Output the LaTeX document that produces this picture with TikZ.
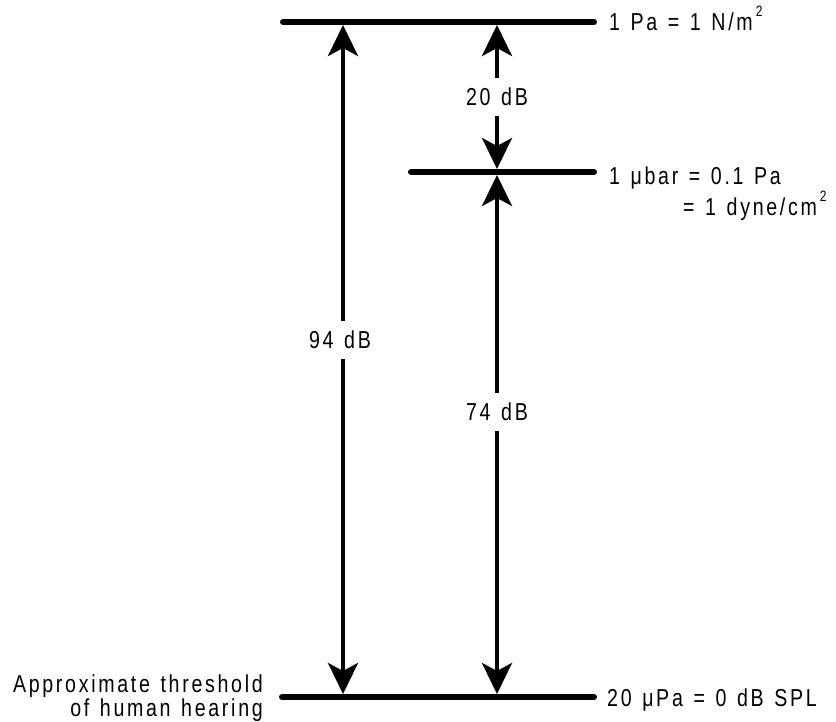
\documentclass[tikz,border=0pt]{standalone}
\usepackage{fontspec}
\setmainfont{Liberation Sans}[LetterSpace=11,FakeStretch=0.8,WordSpace=1.3]
\usetikzlibrary{arrows.meta}
\begin{document}
\begin{tikzpicture}[x=1pt,y=-1pt,
  level/.style={line width=6pt,line cap=round},
  dim/.style={line width=4pt,{Stealth[length=31pt,width=30pt,inset=8pt]}-{Stealth[length=31pt,width=30pt,inset=8pt]}},
  txt/.style={font=\fontsize{24.5}{28}\selectfont,inner sep=0pt},
  gaplabel/.style={txt,fill=white,inner xsep=3pt,inner ysep=10pt}]
\useasboundingbox (0,0) rectangle (836,721);
\newcommand{\sq}{\hspace{3pt}\raisebox{1.05ex}{\fontsize{15}{17}\selectfont 2}}
% level lines
\coordinate (tL) at (283,22);  \coordinate (tR) at (594,22);
\coordinate (mL) at (411,172); \coordinate (mR) at (594,172);
\coordinate (bL) at (282,697); \coordinate (bR) at (594,697);
\draw[level] (tL) -- (tR);
\draw[level] (mL) -- (mR);
\draw[level] (bL) -- (bR);
% arrow end points
\coordinate (a94t) at (343,25); \coordinate (a94b) at (343,694);
\coordinate (a20t) at (497,25); \coordinate (a20b) at (497,169);
\coordinate (a74t) at (497,175); \coordinate (a74b) at (497,694);
\draw[dim] (a94t) -- (a94b);
\draw[dim] (a20t) -- (a20b);
\draw[dim] (a74t) -- (a74b);
\node[gaplabel] (l94) at (340,340) {94 dB};
\node[gaplabel] (l20) at (497,97) {20 dB};
\node[gaplabel] (l74) at (497,412) {74 dB};
% right labels
\node[txt,anchor=base west] (pa) at (609,30) {1 Pa = 1 N/m\sq};
\node[txt,anchor=base west] (ubar) at (609,184) {1 μbar = 0.1 Pa};
\node[txt,anchor=base west] (dyne) at (683,215) {= 1 dyne/cm\sq};
\node[txt,anchor=base west] (upa) at (607,706) {20 μPa = 0 dB SPL};
% left labels
\node[txt,anchor=base east] (thr1) at (263,692) {Approximate threshold};
\node[txt,anchor=base east] (thr2) at (263,716) {of human hearing};
\end{tikzpicture}
\end{document}
